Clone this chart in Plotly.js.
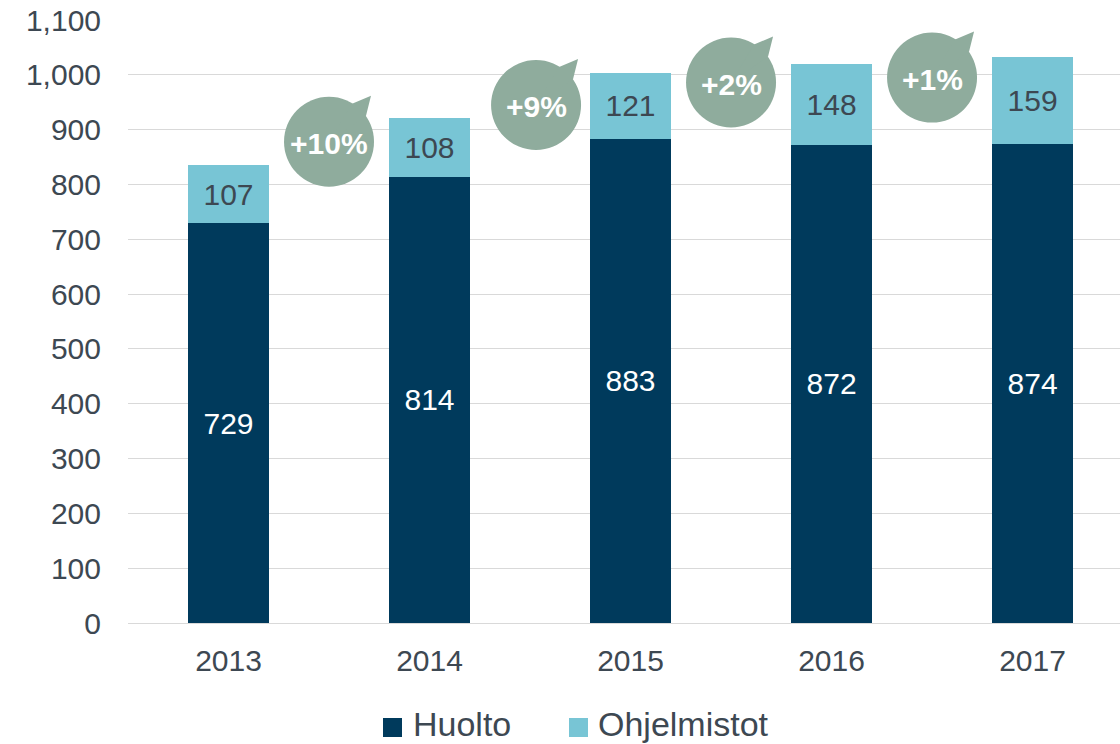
<!DOCTYPE html>
<html>
<head>
<meta charset="utf-8">
<script src="https://cdn.plot.ly/plotly-3.0.1.min.js"></script>
<style>
  html, body { margin: 0; padding: 0; background: #ffffff; }
  #chart { width: 1120px; height: 744px; }
</style>
</head>
<body>
<div id="chart"></div>
<script>
// ---- data ----
const years = ["2013", "2014", "2015", "2016", "2017"];
const huolto = [729, 814, 883, 872, 874];
const ohjelmistot = [107, 108, 121, 148, 159];
const growthLabels = ["+10%", "+9%", "+2%", "+1%"];
const seriesNames = ["Huolto", "Ohjelmistot"];

// ---- styling / layout constants ----
const NAVY = "#003a5c";
const LIGHT = "#78c5d5";
const BUBBLE = "#8fac9d";
const TEXT = "#3d4852";
const FONT = "'Liberation Sans', Arial, sans-serif";
const M = { l: 128, r: 0, t: 20, b: 121 };
const W = 1120, H = 744;
const PW = W - M.l - M.r, PH = H - M.t - M.b;
const px2x = px => (px - M.l) / PW;
const px2y = py => (H - M.b - py) / PH;

// bubble anchor positions (category offset, y value) – decoration placement only
const bubbleX = [0.5, 1.53, 2.5, 3.5];
const bubbleY = [878, 945, 986, 995];
const R = 45;

const totals = huolto.map((v, i) => v + ohjelmistot[i]);
const fmtSpace = n => String(n).replace(/\B(?=(\d{3})+(?!\d))/g, "\u2009");

const traces = [
  {
    type: "bar", name: seriesNames[0], x: years, y: huolto,
    marker: { color: NAVY }, width: 0.4, showlegend: false,
    text: huolto.map(String), textposition: "inside", insidetextanchor: "middle",
    textfont: { color: "#ffffff", size: 30, family: FONT },
    hoverinfo: "x+y+name"
  },
  {
    type: "bar", name: seriesNames[1], x: years, y: ohjelmistot,
    marker: { color: LIGHT }, width: 0.4, showlegend: false,
    text: ohjelmistot.map(String), textposition: "inside", insidetextanchor: "middle",
    textfont: { color: TEXT, size: 30, family: FONT },
    hoverinfo: "x+y+name"
  }
];

const annotations = [];
const shapes = [];

totals.forEach((t, i) => {
  annotations.push({
    x: years[i], y: t, xref: "x", yref: "y",
    text: "<b>" + fmtSpace(t) + "</b>", showarrow: false,
    yanchor: "bottom", xanchor: "center", yshift: 16,
    font: { size: 29, color: TEXT, family: FONT }
  });
});

growthLabels.forEach((g, i) => {
  shapes.push({
    type: "circle", xref: "x", yref: "y",
    xsizemode: "pixel", ysizemode: "pixel",
    xanchor: bubbleX[i], yanchor: bubbleY[i],
    x0: -R, x1: R, y0: -R, y1: R,
    fillcolor: BUBBLE, line: { width: 0 }, layer: "above"
  });
  shapes.push({
    type: "path", xref: "x", yref: "y",
    xsizemode: "pixel", ysizemode: "pixel",
    xanchor: bubbleX[i], yanchor: bubbleY[i],
    path: "M 0 0 L 23 38 L 42 46 L 37 26 Z",
    fillcolor: BUBBLE, line: { width: 0 }, layer: "above"
  });
  annotations.push({
    x: bubbleX[i], y: bubbleY[i], xref: "x", yref: "y",
    text: "<b>" + g + "</b>", showarrow: false,
    xanchor: "center", yanchor: "middle", yshift: -2,
    font: { size: 30, color: "#ffffff", family: FONT }
  });
});

// manual legend (placement in pixels, converted to paper units)
const legendItems = [
  { name: seriesNames[0], color: NAVY, sq: 383, tx: 412 },
  { name: seriesNames[1], color: LIGHT, sq: 569, tx: 597 }
];
legendItems.forEach(it => {
  shapes.push({
    type: "rect", xref: "paper", yref: "paper",
    x0: px2x(it.sq), x1: px2x(it.sq + 19), y0: px2y(737), y1: px2y(718),
    fillcolor: it.color, line: { width: 0 }
  });
  annotations.push({
    xref: "paper", yref: "paper", x: px2x(it.tx), y: px2y(723.5),
    xanchor: "left", yanchor: "middle", showarrow: false,
    text: it.name, borderpad: 0,
    font: { size: 34, color: TEXT, family: FONT }
  });
});

const layout = {
  width: W, height: H,
  margin: M,
  paper_bgcolor: "#ffffff", plot_bgcolor: "#ffffff",
  barmode: "stack",
  font: { family: FONT, color: TEXT, size: 30 },
  xaxis: {
    type: "category", range: [-0.5, 4.435],
    showgrid: false, zeroline: false, showline: false, ticks: "",
    tickfont: { size: 30, color: TEXT, family: FONT },
    ticklabelstandoff: 17, automargin: false
  },
  yaxis: {
    range: [0, 1100], dtick: 100, tickformat: ",",
    showgrid: true, gridcolor: "#d9d9d9", gridwidth: 1,
    zeroline: true, zerolinecolor: "#d9d9d9", zerolinewidth: 1,
    showline: false, ticks: "",
    tickfont: { size: 30, color: TEXT, family: FONT },
    ticklabelstandoff: 26, automargin: false
  },
  showlegend: false,
  annotations: annotations,
  shapes: shapes
};

Plotly.newPlot("chart", traces, layout, { displayModeBar: false, staticPlot: true });
</script>
</body>
</html>
